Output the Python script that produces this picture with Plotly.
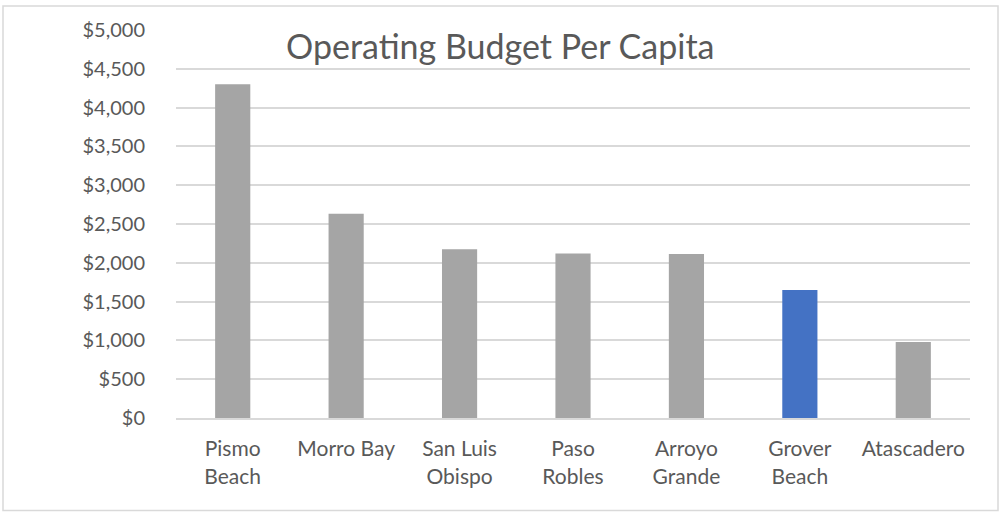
import plotly.graph_objects as go

# City operating budget per capita (USD)
cities = ["Pismo<br>Beach", "Morro Bay", "San Luis<br>Obispo", "Paso<br>Robles",
          "Arroyo<br>Grande", "Grover<br>Beach", "Atascadero"]
budget_per_capita = [4300, 2633, 2175, 2120, 2112, 1650, 978]
highlight_city = "Grover<br>Beach"

y_ticks = [0, 500, 1000, 1500, 2000, 2500, 3000, 3500, 4000, 4500, 5000]
y_tick_text = ["$" + format(v, ",") for v in y_ticks]

GRAY = "#a5a5a5"
BLUE = "#4472c4"
TEXT = "#595959"
GRID = "#d9d9d9"
FONT = "Lato"

W, H = 1000, 512
L, R, T, B = 176, 30, 30, 94

colors = [BLUE if c == highlight_city else GRAY for c in cities]

fig = go.Figure(go.Bar(
    x=cities,
    y=budget_per_capita,
    marker=dict(color=colors, line=dict(width=0)),
    hoverinfo="x+y",
))

pw, ph = W - L - R, H - T - B


def px_to_paper_x(px):
    return (px - L) / pw


def px_to_paper_y(py):
    return (H - B - py) / ph


fig.update_layout(
    width=W,
    height=H,
    margin=dict(l=L, r=R, t=T, b=B, pad=0),
    paper_bgcolor="white",
    plot_bgcolor="white",
    bargap=0.69,
    showlegend=False,
    font=dict(family=FONT, color=TEXT, size=20),
    xaxis=dict(
        showgrid=False,
        showline=True,
        linecolor=GRID,
        linewidth=2,
        ticks="outside",
        ticklen=11,
        tickcolor="rgba(0,0,0,0)",
        tickfont=dict(size=21, color=TEXT, family=FONT),
        fixedrange=True,
    ),
    yaxis=dict(
        range=[0, 5000],
        tickvals=y_ticks,
        ticktext=y_tick_text,
        showgrid=True,
        gridcolor=GRID,
        gridwidth=1.5,
        zeroline=False,
        showline=False,
        ticks="outside",
        ticklen=26,
        tickcolor="rgba(0,0,0,0)",
        tickfont=dict(size=20, color=TEXT, family=FONT),
        fixedrange=True,
    ),
    shapes=[dict(
        type="rect",
        xref="paper", yref="paper",
        x0=px_to_paper_x(3), x1=px_to_paper_x(998),
        y0=px_to_paper_y(510.5), y1=px_to_paper_y(6),
        line=dict(color=GRID, width=1.5),
        fillcolor="rgba(0,0,0,0)",
        layer="below",
    )],
    annotations=[dict(
        text="Operating Budget Per Capita",
        xref="paper", yref="paper",
        x=px_to_paper_x(500), y=px_to_paper_y(46),
        xanchor="center", yanchor="middle",
        showarrow=False,
        font=dict(size=34, color=TEXT, family=FONT),
    )],
)

fig.write_html("out.html")
